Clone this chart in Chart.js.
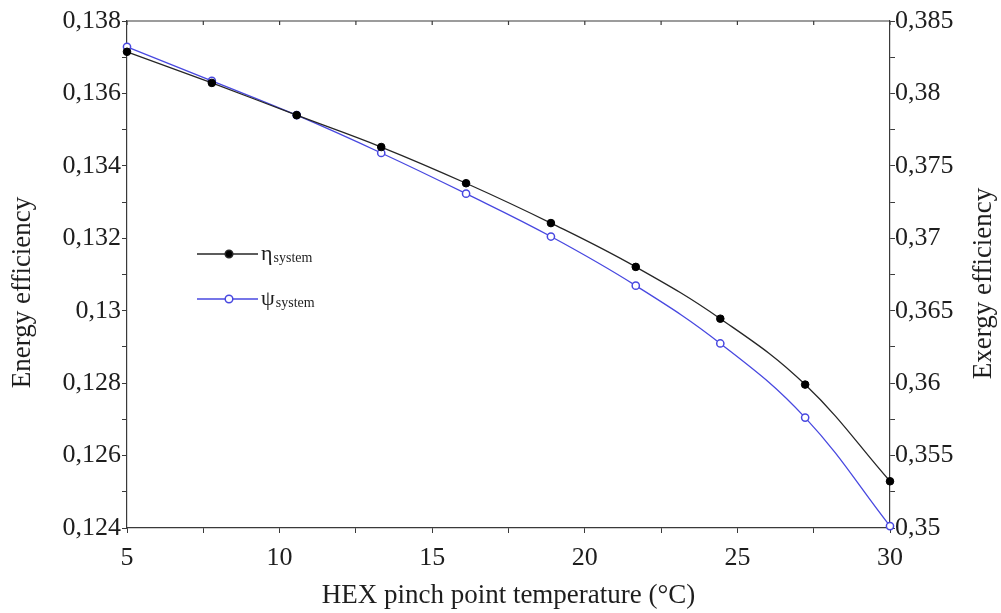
<!DOCTYPE html>
<html lang="en">
<head>
    <meta charset="UTF-8">
    <title>Energy and exergy efficiency vs HEX pinch point temperature</title>
    <script src="https://cdn.jsdelivr.net/npm/chart.js"></script>
    <style>
        body {
            margin: 0;
            background-color: #ffffff;
        }
        canvas {
            display: block;
        }
    </style>
</head>
<body>
<canvas id="effChart" width="1001" height="613"></canvas>

<script>
    // data
    const pinchTemps = [5, 7.78, 10.56, 13.33, 16.11, 18.89, 21.67, 24.44, 27.22, 30];
    const energyEff = [0.13715, 0.13629, 0.1354, 0.13452, 0.13352, 0.13242, 0.13121, 0.12978, 0.12796, 0.12529];
    const exergyEff = [0.38322, 0.38087, 0.3785, 0.37589, 0.37308, 0.37012, 0.36673, 0.36274, 0.35762, 0.35013];

    const xLabels = [5, 10, 15, 20, 25, 30];
    const leftLabels = ['0,124', '0,126', '0,128', '0,13', '0,132', '0,134', '0,136', '0,138'];
    const rightLabels = ['0,35', '0,355', '0,36', '0,365', '0,37', '0,375', '0,38', '0,385'];

    const xTitle = 'HEX pinch point temperature (°C)';
    const leftTitle = 'Energy efficiency';
    const rightTitle = 'Exergy efficiency';

    const serif = '"Liberation Serif", "DejaVu Serif", serif';
    const axisColor = '#3a3a3a';
    const textColor = '#1e1e1e';
    const blackLine = '#262626';
    const blueLine = '#4848e0';

    function fmt(v) {
        return parseFloat(v.toFixed(4)).toString().replace('.', ',');
    }

    // top frame, axis titles and the in-plot legend
    const extras = {
        id: 'extras',
        afterDraw(chart) {
            const {ctx, chartArea: a, scales} = chart;
            ctx.save();

            // top border with small inward ticks
            ctx.strokeStyle = axisColor;
            ctx.lineWidth = 1.2;
            ctx.beginPath();
            ctx.moveTo(a.left, a.top);
            ctx.lineTo(a.right, a.top);
            scales.x.ticks.forEach(t => {
                const px = scales.x.getPixelForValue(t.value);
                ctx.moveTo(px, a.top);
                ctx.lineTo(px, a.top + 4);
            });
            ctx.stroke();

            // axis titles
            ctx.fillStyle = textColor;
            ctx.font = '27px ' + serif;
            ctx.textAlign = 'center';
            ctx.textBaseline = 'middle';
            ctx.fillText(xTitle, (a.left + a.right) / 2, chart.height - 17);

            ctx.save();
            ctx.translate(23, a.top + a.height / 2 + 18);
            ctx.rotate(-Math.PI / 2);
            ctx.fillText(leftTitle, 0, 0);
            ctx.restore();

            ctx.save();
            ctx.translate(chart.width - 17, a.top + a.height / 2 + 9);
            ctx.rotate(-Math.PI / 2);
            ctx.fillText(rightTitle, 0, 0);
            ctx.restore();

            // legend
            const items = [
                {sym: 'η', color: blackLine, fill: '#000', y: a.top + 233},
                {sym: 'ψ', color: blueLine, fill: '#fff', y: a.top + 278}
            ];
            items.forEach(it => {
                const x0 = a.left + 70, x1 = a.left + 131, mx = a.left + 102;
                ctx.strokeStyle = it.color;
                ctx.lineWidth = 1.3;
                ctx.beginPath();
                ctx.moveTo(x0, it.y);
                ctx.lineTo(x1, it.y);
                ctx.stroke();
                ctx.beginPath();
                ctx.arc(mx, it.y, 3.8, 0, Math.PI * 2);
                ctx.fillStyle = it.fill;
                ctx.fill();
                ctx.lineWidth = 1.5;
                ctx.stroke();

                ctx.fillStyle = textColor;
                ctx.textAlign = 'left';
                ctx.textBaseline = 'alphabetic';
                ctx.font = '22px ' + serif;
                ctx.fillText(it.sym, x1 + 3, it.y + 6);
                const w = ctx.measureText(it.sym).width;
                ctx.font = '14px ' + serif;
                ctx.fillText('system', x1 + 4 + w, it.y + 8);
            });

            ctx.restore();
        }
    };

    const ctx = document.getElementById('effChart').getContext('2d');
    new Chart(ctx, {
        type: 'line',
        data: {
            datasets: [
                {
                    label: 'ηsystem',
                    data: pinchTemps.map((t, i) => ({x: t, y: energyEff[i]})),
                    yAxisID: 'y',
                    borderColor: blackLine,
                    borderWidth: 1.3,
                    pointRadius: 3.8,
                    pointBackgroundColor: '#000',
                    pointBorderColor: '#000',
                    pointBorderWidth: 1,
                    tension: 0.4,
                    clip: false
                },
                {
                    label: 'ψsystem',
                    data: pinchTemps.map((t, i) => ({x: t, y: exergyEff[i]})),
                    yAxisID: 'y1',
                    borderColor: blueLine,
                    borderWidth: 1.3,
                    pointRadius: 3.6,
                    pointBackgroundColor: '#fff',
                    pointBorderColor: blueLine,
                    pointBorderWidth: 1.5,
                    tension: 0.4,
                    clip: false
                }
            ]
        },
        options: {
            responsive: false,
            animation: false,
            layout: {
                padding: {top: 21, left: 0, right: 0, bottom: 0}
            },
            plugins: {
                legend: {display: false},
                tooltip: {enabled: false}
            },
            scales: {
                x: {
                    type: 'linear',
                    min: 5,
                    max: 30,
                    afterFit: s => { s.height = 85; },
                    ticks: {
                        stepSize: 2.5,
                        autoSkip: false,
                        maxRotation: 0,
                        padding: 10,
                        color: textColor,
                        font: {family: serif, size: 26},
                        callback: v => xLabels.includes(v) ? String(v) : ''
                    },
                    grid: {drawOnChartArea: false, tickLength: 5, color: axisColor},
                    border: {color: axisColor, width: 1.2}
                },
                y: {
                    position: 'left',
                    min: 0.124,
                    max: 0.138,
                    afterFit: s => { s.width = 127; },
                    ticks: {
                        stepSize: 0.001,
                        maxTicksLimit: 40,
                        autoSkip: false,
                        padding: 1,
                        color: textColor,
                        font: {family: serif, size: 26},
                        callback: v => leftLabels.includes(fmt(v)) ? fmt(v) : ''
                    },
                    grid: {drawOnChartArea: false, tickLength: 5, color: axisColor},
                    border: {color: axisColor, width: 1.2}
                },
                y1: {
                    position: 'right',
                    min: 0.35,
                    max: 0.385,
                    afterFit: s => { s.width = 111; },
                    ticks: {
                        stepSize: 0.0025,
                        maxTicksLimit: 40,
                        autoSkip: false,
                        padding: 0,
                        color: textColor,
                        font: {family: serif, size: 26},
                        callback: v => rightLabels.includes(fmt(v)) ? fmt(v) : ''
                    },
                    grid: {drawOnChartArea: false, tickLength: 5, color: axisColor},
                    border: {color: axisColor, width: 1.2}
                }
            }
        },
        plugins: [extras]
    });
</script>
</body>
</html>
